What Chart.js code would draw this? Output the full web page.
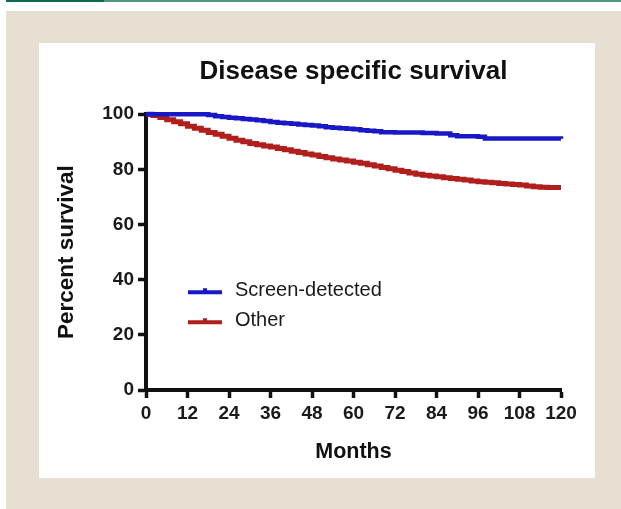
<!DOCTYPE html>
<html lang="en">
<head>
    <meta charset="UTF-8">
    <title>Disease specific survival</title>
    <style>
        body {
            margin: 0;
            padding: 0;
            width: 621px;
            height: 509px;
            background: #ffffff;
            position: relative;
            overflow: hidden;
            font-family: "Liberation Sans", Arial, sans-serif;
        }
        .topline {
            position: absolute;
            left: 6px;
            top: 0;
            width: 615px;
            height: 2px;
            background: linear-gradient(to right, #0b6b4a 0, #0b6b4a 98px, #4f9a7c 98px);
        }
        .frame {
            position: absolute;
            left: 6px;
            top: 11px;
            right: 0;
            bottom: 0;
            background: #e6dfd2;
        }
        .panel {
            position: absolute;
            left: 39px;
            top: 43px;
            width: 556px;
            height: 435px;
            background: #ffffff;
        }
        #chart {
            position: absolute;
            left: 0;
            top: 0;
        }
    </style>
</head>
<body>
    <div class="topline"></div>
    <div class="frame"></div>
    <div class="panel"></div>
    <canvas id="chart" width="621" height="509"></canvas>

    <script src="https://cdn.jsdelivr.net/npm/chart.js"></script>
    <script>
        // Kaplan-Meier curves (months, percent survival)
        const screenMonths = [0, 16, 18, 20, 22, 24, 26, 28, 30, 32, 34, 36, 38, 40, 42, 44, 46, 48, 50, 52, 54, 56, 58, 60, 62, 64, 66, 68, 72, 80, 84, 88, 90, 96, 98, 120];
        const screenSurvival = [100, 100, 99.7, 99.3, 99, 98.7, 98.5, 98.3, 98.1, 97.8, 97.5, 97.2, 96.9, 96.7, 96.5, 96.3, 96.1, 95.9, 95.6, 95.3, 95.1, 94.9, 94.7, 94.5, 94.2, 94, 93.8, 93.5, 93.4, 93.2, 93, 92.4, 92, 91.8, 91.2, 91.1];

        const otherMonths = [0, 2, 4, 6, 8, 10, 12, 14, 16, 18, 20, 22, 24, 26, 28, 30, 32, 34, 36, 38, 40, 42, 44, 46, 48, 50, 52, 54, 56, 58, 60,
            62, 64, 66, 68, 70, 72, 74, 76, 78, 80, 82, 84, 86, 88, 90, 92, 94, 96, 98, 100, 102, 104, 106, 108, 110, 112, 114, 116, 120];
        const otherSurvival = [100, 99.5, 98.8, 98, 97.3, 96.5, 95.6, 94.9, 94.2, 93.4, 92.7, 92, 91.3, 90.6, 90, 89.4, 88.9, 88.5, 88.1, 87.6, 87.1, 86.6, 86.1, 85.6, 85.2, 84.7, 84.2, 83.8, 83.4, 83, 82.6,
            82.2, 81.7, 81.2, 80.7, 80.2, 79.7, 79.2, 78.7, 78.2, 77.9, 77.6, 77.3, 77, 76.7, 76.4, 76.1, 75.8, 75.5, 75.3, 75.1, 74.9, 74.7, 74.5, 74.3, 74, 73.7, 73.5, 73.4, 73.4];

        const xTicks = [0, 12, 24, 36, 48, 60, 72, 84, 96, 108, 120];
        const yTicks = [0, 20, 40, 60, 80, 100];

        const seriesNames = ['Screen-detected', 'Other'];
        const seriesColors = ['#1818c6', '#b01f1c'];

        const FONT = '"Liberation Sans", Arial, sans-serif';

        function toPoints(xs, ys) {
            return xs.map((m, i) => ({ x: m, y: ys[i] }));
        }

        // legend drawn inside the plot, lower left
        const insideLegend = {
            id: 'insideLegend',
            afterDatasetsDraw(chart) {
                const { ctx, chartArea } = chart;
                ctx.save();
                chart.data.datasets.forEach((ds, i) => {
                    const x0 = chartArea.left + 42;
                    const y = chartArea.top + 178 + i * 30;
                    ctx.strokeStyle = ds.borderColor;
                    ctx.lineWidth = 4;
                    ctx.lineCap = 'butt';
                    ctx.beginPath();
                    ctx.moveTo(x0, y);
                    ctx.lineTo(x0 + 34, y);
                    ctx.moveTo(x0 + 17, y);
                    ctx.lineTo(x0 + 17, y - 4);
                    ctx.stroke();
                    ctx.fillStyle = '#1a1a1a';
                    ctx.font = '20px ' + FONT;
                    ctx.textBaseline = 'middle';
                    ctx.textAlign = 'left';
                    ctx.fillText(ds.label, x0 + 47, y - 2);
                });
                ctx.restore();
            }
        };

        const ctx = document.getElementById('chart').getContext('2d');
        const chart = new Chart(ctx, {
            type: 'line',
            data: {
                datasets: [
                    {
                        label: seriesNames[0],
                        data: toPoints(screenMonths, screenSurvival),
                        borderColor: seriesColors[0],
                        borderWidth: 4.5,
                        stepped: true,
                        pointRadius: 0,
                        clip: 8
                    },
                    {
                        label: seriesNames[1],
                        data: toPoints(otherMonths, otherSurvival),
                        borderColor: seriesColors[1],
                        borderWidth: 5,
                        stepped: true,
                        pointRadius: 0,
                        clip: 8
                    }
                ]
            },
            options: {
                responsive: false,
                animation: false,
                layout: {
                    padding: { left: 40, right: 60, top: 43, bottom: 31 }
                },
                plugins: {
                    legend: { display: false },
                    tooltip: { enabled: false },
                    title: {
                        display: true,
                        text: 'Disease specific survival',
                        fullSize: false,
                        color: '#111111',
                        font: { family: FONT, size: 26, weight: 'bold' },
                        padding: { top: 13, bottom: 27 }
                    }
                },
                scales: {
                    x: {
                        type: 'linear',
                        min: 0,
                        max: 120,
                        afterBuildTicks: (scale) => {
                            scale.ticks = xTicks.map(v => ({ value: v }));
                        },
                        afterFit: (scale) => { scale.height = 88; },
                        grid: {
                            drawOnChartArea: false,
                            drawTicks: true,
                            tickLength: 8,
                            tickWidth: 3.5,
                            tickColor: '#111111'
                        },
                        border: { color: '#111111', width: 4 },
                        ticks: {
                            color: '#1a1a1a',
                            padding: 4,
                            maxRotation: 0,
                            font: { family: FONT, size: 19, weight: 'bold' }
                        },
                        title: {
                            display: true,
                            text: 'Months',
                            color: '#111111',
                            font: { family: FONT, size: 21.5, weight: 'bold' },
                            padding: { top: 0, bottom: 13 }
                        }
                    },
                    y: {
                        min: 0,
                        max: 100,
                        afterBuildTicks: (scale) => {
                            scale.ticks = yTicks.map(v => ({ value: v }));
                        },
                        afterFit: (scale) => { scale.width = 106; },
                        grid: {
                            drawOnChartArea: false,
                            drawTicks: true,
                            tickLength: 8,
                            tickWidth: 3.5,
                            tickColor: '#111111'
                        },
                        border: { color: '#111111', width: 4 },
                        ticks: {
                            color: '#1a1a1a',
                            padding: 4,
                            font: { family: FONT, size: 19, weight: 'bold' }
                        },
                        title: {
                            display: true,
                            text: 'Percent survival',
                            color: '#111111',
                            font: { family: FONT, size: 22.5, weight: 'bold' },
                            padding: { top: 13, bottom: 0 }
                        }
                    }
                }
            },
            plugins: [insideLegend]
        });
    </script>
</body>
</html>
